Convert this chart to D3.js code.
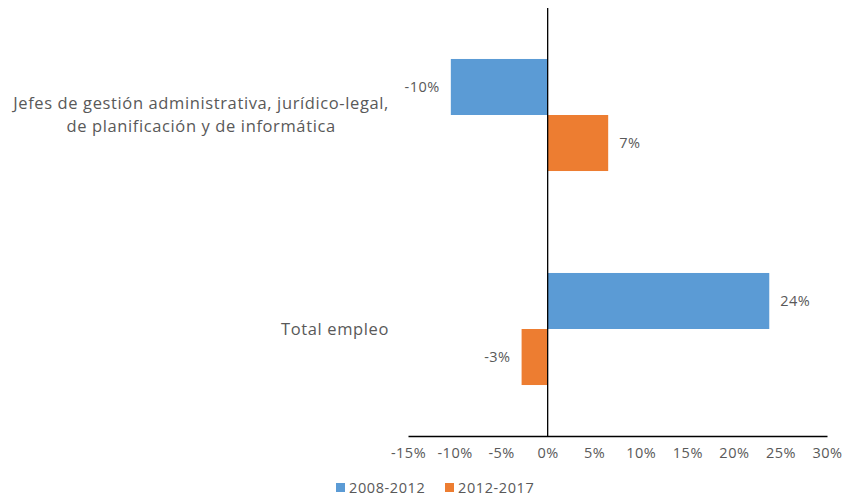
<!DOCTYPE html>
<html><head><meta charset="utf-8">
<script src="https://cdn.jsdelivr.net/npm/d3@7"></script>
<style>body{margin:0;background:#fff}svg{display:block}text{font-family:"Open Sans",sans-serif;fill:#595959}</style>
</head><body><svg id="c" width="846" height="498"></svg>
<script>
const categories = [["Jefes de gestión administrativa, jurídico-legal,","de planificación y de informática"],["Total empleo"]];
const seriesNames = ["2008-2012","2012-2017"];
const values2008_2012 = [-10.4, 23.8];
const values2012_2017 = [6.5, -2.8];
const labels2008_2012 = ["-10%","24%"];
const labels2012_2017 = ["7%","-3%"];
const tickValues = [-15,-10,-5,0,5,10,15,20,25,30];
const colors = ["#5b9bd5","#ed7d31"];

const svg = d3.select("#c");
const x = d3.scaleLinear().domain([-15,30]).range([408,827]);
const y = d3.scaleBand().domain([0,1]).range([8,436]).paddingInner(0).paddingOuter(0);
const inner = d3.scaleBand().domain([0,1]).range([0,y.bandwidth()]).paddingInner(0).paddingOuter(0.91);

const series = [values2008_2012, values2012_2017];
const labels = [labels2008_2012, labels2012_2017];
series.forEach((vals,s)=>{
  vals.forEach((v,i)=>{
    const y0 = y(i)+inner(s);
    svg.append("rect").attr("x",x(Math.min(0,v))).attr("width",Math.abs(x(v)-x(0)))
      .attr("y",y0).attr("height",inner.bandwidth()).attr("fill",colors[s]);
    svg.append("text").attr("x", v<0 ? x(v)-11 : x(v)+11)
      .attr("y",y0+inner.bandwidth()/2).attr("dy","0.35em")
      .attr("text-anchor", v<0?"end":"start").attr("font-size",14.5).attr("letter-spacing",0.5).text(labels[s][i]);
  });
});

// axis
const axisG = svg.append("g").attr("transform","translate(0,436)");
axisG.call(d3.axisBottom(x).tickValues(tickValues).tickSize(0).tickPadding(12).tickFormat(d=>d+"%"));
axisG.select(".domain").attr("stroke","#000").attr("stroke-width",1.3);
axisG.selectAll("text").attr("font-size",14.5).attr("letter-spacing",0.5).attr("fill","#595959").attr("font-family","Open Sans");
// zero line
svg.append("line").attr("x1",x(0)).attr("x2",x(0)).attr("y1",8).attr("y2",436).attr("stroke","#000").attr("stroke-width",1.3);

// category labels
const rightEdge = 389;
categories.forEach((lines,i)=>{
  const cy = y(i)+y.bandwidth()/2;
  const g = svg.append("g");
  const lh = 23;
  const ts = lines.map((l,j)=>g.append("text").attr("font-size",16.5).attr("letter-spacing",0.62).attr("text-anchor","middle")
     .attr("y", cy + (j-(lines.length-1)/2)*lh).attr("dy","0.35em").text(l));
  const maxW = d3.max(ts, t=>t.node().getComputedTextLength());
  ts.forEach(t=>t.attr("x", rightEdge - maxW/2));
});

// legend
const lg = svg.append("g");
const legX = [336,445];
seriesNames.forEach((n,i)=>{
  lg.append("rect").attr("x",legX[i]).attr("y",483).attr("width",9).attr("height",9).attr("fill",colors[i]);
  lg.append("text").attr("x",legX[i]+13).attr("y",487.5).attr("dy","0.35em").attr("font-size",14.5).attr("letter-spacing",0.6).text(n);
});
</script></body></html>
